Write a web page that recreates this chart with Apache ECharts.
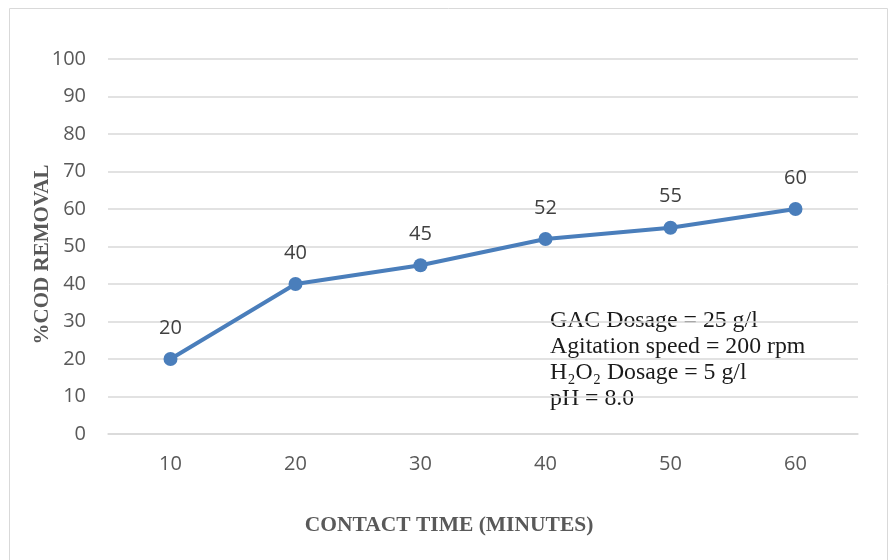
<!DOCTYPE html>
<html><head><meta charset="utf-8">
<script src="https://cdn.jsdelivr.net/npm/echarts@6/dist/echarts.min.js"></script>
<style>html,body{margin:0;padding:0;background:#fff}#c{width:896px;height:560px}</style>
</head><body><div id="c"></div>
<script>
var categories = ['10','20','30','40','50','60'];
var codRemoval = [20, 40, 45, 52, 55, 60];
var xTitle = 'CONTACT TIME (MINUTES)';
var yTitle = '%COD REMOVAL';
var notes = ['GAC Dosage = 25 g/l','Agitation speed = 200 rpm','H\u2082O\u2082 Dosage = 5 g/l','pH = 8.0'];

var chart = echarts.init(document.getElementById('c'));
chart.setOption({
  animation:false,
  graphic:[
    {type:'rect',shape:{x:9.5,y:8.5,width:878,height:560},style:{fill:'none',stroke:'#d9d9d9',lineWidth:1}},
    {type:'text',left:550,top:308,style:{text:notes.join('\n'),font:'23.8px "Liberation Serif", "Times New Roman", serif',fill:'#1a1a1a',lineHeight:26}}
  ],
  grid:{left:108,right:38,top:59,bottom:126},
  xAxis:{type:'category',data:categories,boundaryGap:true,
    axisLine:{show:true,lineStyle:{color:'#d9d9d9',width:1.5}},axisTick:{show:false},
    axisLabel:{color:'#595959',fontSize:20,fontFamily:'Open Sans, Calibri, sans-serif',margin:20},
    name:xTitle,nameLocation:'middle',nameGap:80,nameMoveOverlap:false,
    nameTextStyle:{color:'#595959',fontSize:21.5,fontWeight:'bold',fontFamily:'"Liberation Serif", serif',padding:[0,68,0,0]}},
  yAxis:{type:'value',min:0,max:100,interval:10,
    axisLine:{show:false},axisTick:{show:false},
    splitLine:{lineStyle:{color:'#d9d9d9',width:1.5}},
    axisLabel:{color:'#595959',fontSize:20,fontFamily:'Open Sans, Calibri, sans-serif',margin:22},
    name:yTitle,nameLocation:'middle',nameGap:55,nameRotate:90,nameMoveOverlap:false,
    nameTextStyle:{color:'#595959',fontSize:21,fontWeight:'bold',fontFamily:'"Liberation Serif", serif',padding:[0,16,0,0]}},
  series:[{type:'line',data:codRemoval,symbol:'circle',symbolSize:14,
    lineStyle:{color:'#4a7ebb',width:4},itemStyle:{color:'#4a7ebb'},
    label:{show:true,position:'top',distance:14,color:'#404040',fontSize:20,fontFamily:'Open Sans, Calibri, sans-serif'}}]
});
</script></body></html>
